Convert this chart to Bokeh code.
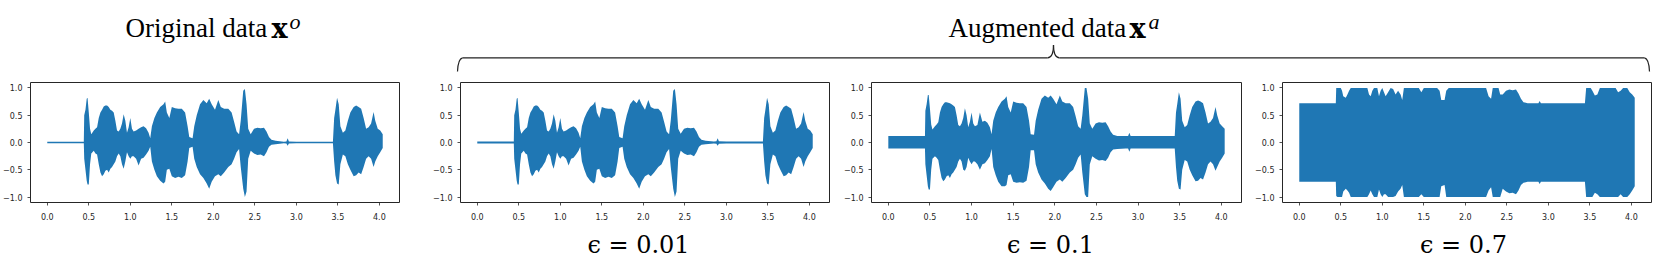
from bokeh.plotting import figure
from bokeh.layouts import column, row
from bokeh.models import Range1d, CustomJSTickFormatter
from bokeh.embed import file_html
from bokeh.resources import INLINE
from bokeh.core.properties import value

# ---------------- data (envelopes of the waveforms) ----------------
time_s = [
    0.00, 0.44, 0.445, 0.46, 0.475, 0.485, 0.50, 0.515, 0.53, 0.56,
    0.58, 0.60, 0.62, 0.64, 0.66, 0.68, 0.70, 0.72, 0.74, 0.76,
    0.78, 0.80, 0.82, 0.84, 0.86, 0.88, 0.90, 0.92, 0.94, 0.96,
    0.98, 1.00, 1.02, 1.04, 1.07, 1.10, 1.13, 1.16, 1.19, 1.22,
    1.24, 1.26, 1.29, 1.32, 1.36, 1.40, 1.42, 1.44, 1.47, 1.50,
    1.54, 1.58, 1.62, 1.66, 1.69, 1.71, 1.75, 1.77, 1.80, 1.84,
    1.88, 1.92, 1.95, 1.98, 2.02, 2.06, 2.09, 2.13, 2.18, 2.22,
    2.25, 2.28, 2.31, 2.33, 2.36, 2.38, 2.40, 2.42, 2.45, 2.49,
    2.53, 2.57, 2.61, 2.64, 2.67, 2.70, 2.75, 2.85, 2.88, 2.895,
    2.91, 3.00, 3.44, 3.455, 3.47, 3.49, 3.51, 3.53, 3.56, 3.59,
    3.62, 3.65, 3.69, 3.72, 3.75, 3.78, 3.81, 3.84, 3.87, 3.90,
    3.93, 3.95, 3.98, 4.01, 4.04,
]

orig_upper = [
    0.012, 0.012, 0.50, 0.60, 0.80, 0.82, 0.55, 0.25, 0.15, 0.22,
    0.25, 0.28, 0.45, 0.55, 0.60, 0.66, 0.68, 0.68, 0.65, 0.60,
    0.58, 0.55, 0.40, 0.22, 0.20, 0.25, 0.35, 0.52, 0.40, 0.18,
    0.28, 0.45, 0.25, 0.20, 0.22, 0.25, 0.28, 0.30, 0.26, 0.18,
    0.08, 0.30, 0.45, 0.55, 0.65, 0.70, 0.75, 0.55, 0.45, 0.65,
    0.63, 0.62, 0.62, 0.55, 0.30, 0.10, 0.08, 0.30, 0.50, 0.70,
    0.78, 0.72, 0.80, 0.70, 0.60, 0.78, 0.65, 0.62, 0.62, 0.55,
    0.38, 0.20, 0.15, 0.40, 0.95, 0.98, 0.70, 0.25, 0.15, 0.25,
    0.27, 0.26, 0.27, 0.20, 0.10, 0.05, 0.03, 0.015, 0.02, 0.08,
    0.02, 0.015, 0.012, 0.45, 0.60, 0.82, 0.70, 0.30, 0.18, 0.22,
    0.40, 0.55, 0.65, 0.68, 0.65, 0.62, 0.45, 0.25, 0.28, 0.35,
    0.56, 0.40, 0.25, 0.22, 0.15,
]
orig_lower = [
    -0.012, -0.012, -0.30, -0.50, -0.70, -0.77, -0.77, -0.40, -0.20, -0.15,
    -0.20, -0.22, -0.40, -0.55, -0.62, -0.58, -0.52, -0.50, -0.55, -0.48,
    -0.45, -0.40, -0.35, -0.25, -0.20, -0.25, -0.40, -0.48, -0.35, -0.18,
    -0.25, -0.30, -0.25, -0.25, -0.30, -0.42, -0.30, -0.28, -0.22, -0.15,
    -0.08, -0.35, -0.50, -0.62, -0.70, -0.75, -0.72, -0.50, -0.48, -0.62,
    -0.65, -0.63, -0.65, -0.60, -0.35, -0.10, -0.08, -0.30, -0.45, -0.58,
    -0.65, -0.75, -0.85, -0.72, -0.62, -0.58, -0.62, -0.55, -0.45, -0.40,
    -0.30, -0.18, -0.12, -0.45, -0.85, -1.00, -0.90, -0.30, -0.15, -0.20,
    -0.23, -0.22, -0.25, -0.18, -0.08, -0.04, -0.03, -0.015, -0.02, -0.06,
    -0.02, -0.015, -0.012, -0.35, -0.60, -0.75, -0.77, -0.40, -0.22, -0.25,
    -0.40, -0.50, -0.62, -0.60, -0.55, -0.58, -0.45, -0.30, -0.25, -0.30,
    -0.45, -0.35, -0.25, -0.18, -0.10,
]

eps001_upper = [
    0.02, 0.02, 0.50, 0.60, 0.80, 0.82, 0.55, 0.25, 0.16, 0.22,
    0.25, 0.28, 0.45, 0.55, 0.60, 0.66, 0.68, 0.68, 0.65, 0.60,
    0.58, 0.55, 0.40, 0.22, 0.20, 0.25, 0.35, 0.52, 0.40, 0.18,
    0.28, 0.45, 0.25, 0.20, 0.22, 0.25, 0.28, 0.30, 0.26, 0.18,
    0.08, 0.30, 0.45, 0.55, 0.65, 0.70, 0.75, 0.55, 0.45, 0.65,
    0.63, 0.62, 0.62, 0.55, 0.30, 0.10, 0.08, 0.30, 0.50, 0.70,
    0.78, 0.72, 0.80, 0.70, 0.60, 0.78, 0.65, 0.62, 0.62, 0.55,
    0.38, 0.20, 0.15, 0.40, 0.95, 0.98, 0.70, 0.25, 0.16, 0.25,
    0.27, 0.26, 0.27, 0.20, 0.10, 0.05, 0.03, 0.02, 0.025, 0.08,
    0.025, 0.02, 0.02, 0.45, 0.60, 0.82, 0.70, 0.30, 0.18, 0.22,
    0.40, 0.55, 0.65, 0.68, 0.65, 0.62, 0.45, 0.25, 0.28, 0.35,
    0.56, 0.40, 0.25, 0.22, 0.15,
]
eps001_lower = [
    -0.02, -0.02, -0.30, -0.50, -0.70, -0.77, -0.77, -0.40, -0.20, -0.15,
    -0.20, -0.22, -0.40, -0.55, -0.62, -0.58, -0.52, -0.50, -0.55, -0.48,
    -0.45, -0.40, -0.35, -0.25, -0.20, -0.25, -0.40, -0.48, -0.35, -0.18,
    -0.25, -0.30, -0.25, -0.25, -0.30, -0.42, -0.30, -0.28, -0.22, -0.15,
    -0.08, -0.35, -0.50, -0.62, -0.70, -0.75, -0.72, -0.50, -0.48, -0.62,
    -0.65, -0.63, -0.65, -0.60, -0.35, -0.10, -0.08, -0.30, -0.45, -0.58,
    -0.65, -0.75, -0.85, -0.72, -0.62, -0.58, -0.62, -0.55, -0.45, -0.40,
    -0.30, -0.18, -0.12, -0.45, -0.85, -1.00, -0.90, -0.30, -0.15, -0.20,
    -0.23, -0.22, -0.25, -0.18, -0.08, -0.04, -0.03, -0.02, -0.025, -0.06,
    -0.025, -0.02, -0.02, -0.35, -0.60, -0.75, -0.77, -0.40, -0.22, -0.25,
    -0.40, -0.50, -0.62, -0.60, -0.55, -0.58, -0.45, -0.30, -0.25, -0.30,
    -0.45, -0.35, -0.25, -0.18, -0.10,
]

eps01_upper = [
    0.12, 0.12, 0.58, 0.70, 0.87, 0.87, 0.62, 0.33, 0.24, 0.30,
    0.33, 0.37, 0.55, 0.65, 0.70, 0.74, 0.74, 0.73, 0.72, 0.70,
    0.68, 0.65, 0.50, 0.32, 0.30, 0.35, 0.45, 0.63, 0.50, 0.28,
    0.38, 0.55, 0.35, 0.30, 0.32, 0.55, 0.38, 0.40, 0.36, 0.28,
    0.15, 0.40, 0.55, 0.65, 0.75, 0.80, 0.85, 0.65, 0.55, 0.75,
    0.73, 0.72, 0.72, 0.65, 0.40, 0.15, 0.14, 0.40, 0.60, 0.80,
    0.86, 0.82, 0.86, 0.80, 0.70, 0.86, 0.75, 0.72, 0.72, 0.65,
    0.48, 0.30, 0.25, 0.50, 1.00, 1.00, 0.80, 0.35, 0.25, 0.35,
    0.37, 0.36, 0.37, 0.30, 0.20, 0.14, 0.12, 0.12, 0.12, 0.18,
    0.12, 0.12, 0.12, 0.55, 0.70, 0.92, 0.80, 0.40, 0.28, 0.32,
    0.50, 0.65, 0.75, 0.77, 0.75, 0.72, 0.55, 0.35, 0.38, 0.45,
    0.65, 0.50, 0.35, 0.30, 0.25,
]
eps01_lower = [
    -0.11, -0.11, -0.40, -0.60, -0.80, -0.86, -0.86, -0.50, -0.30, -0.25,
    -0.28, -0.32, -0.50, -0.65, -0.71, -0.68, -0.62, -0.60, -0.65, -0.58,
    -0.55, -0.50, -0.45, -0.35, -0.30, -0.35, -0.50, -0.52, -0.45, -0.28,
    -0.35, -0.40, -0.35, -0.35, -0.40, -0.50, -0.40, -0.38, -0.32, -0.25,
    -0.12, -0.45, -0.60, -0.72, -0.80, -0.80, -0.78, -0.60, -0.58, -0.72,
    -0.74, -0.73, -0.74, -0.70, -0.45, -0.14, -0.14, -0.40, -0.55, -0.68,
    -0.75, -0.85, -0.89, -0.82, -0.72, -0.68, -0.72, -0.65, -0.55, -0.50,
    -0.40, -0.28, -0.22, -0.55, -0.95, -1.00, -1.00, -0.40, -0.25, -0.30,
    -0.33, -0.32, -0.34, -0.28, -0.18, -0.13, -0.12, -0.11, -0.11, -0.17,
    -0.11, -0.11, -0.11, -0.45, -0.70, -0.85, -0.86, -0.50, -0.32, -0.35,
    -0.50, -0.60, -0.71, -0.70, -0.65, -0.68, -0.55, -0.40, -0.35, -0.40,
    -0.52, -0.45, -0.35, -0.28, -0.20,
]

eps07_upper = [
    0.72, 0.72, 1.00, 1.00, 1.00, 1.00, 1.00, 0.95, 0.85, 0.82,
    0.88, 0.95, 1.00, 1.00, 1.00, 1.00, 1.00, 1.00, 1.00, 1.00,
    1.00, 1.00, 1.00, 0.88, 0.85, 0.95, 1.00, 1.00, 1.00, 0.85,
    0.95, 1.00, 0.92, 0.85, 0.92, 1.00, 0.98, 0.88, 0.95, 0.88,
    0.78, 1.00, 1.00, 1.00, 1.00, 1.00, 1.00, 1.00, 0.92, 1.00,
    1.00, 1.00, 1.00, 1.00, 0.95, 0.78, 0.78, 0.95, 1.00, 1.00,
    1.00, 1.00, 1.00, 1.00, 1.00, 1.00, 1.00, 1.00, 1.00, 1.00,
    1.00, 0.85, 0.80, 1.00, 1.00, 1.00, 1.00, 0.88, 0.88, 0.95,
    0.97, 0.96, 0.97, 0.90, 0.80, 0.74, 0.72, 0.72, 0.72, 0.76,
    0.72, 0.72, 0.72, 1.00, 1.00, 1.00, 1.00, 0.95, 0.86, 0.88,
    1.00, 1.00, 1.00, 1.00, 1.00, 1.00, 1.00, 0.92, 0.95, 1.00,
    1.00, 1.00, 0.92, 0.88, 0.82,
]
eps07_lower = [
    -0.72, -0.72, -0.98, -1.00, -1.00, -1.00, -1.00, -1.00, -0.90, -0.85,
    -0.88, -0.92, -1.00, -1.00, -1.00, -1.00, -1.00, -1.00, -1.00, -1.00,
    -1.00, -1.00, -1.00, -0.95, -0.88, -0.95, -1.00, -1.00, -1.00, -0.86,
    -0.95, -1.00, -0.95, -0.95, -1.00, -1.00, -1.00, -0.98, -0.90, -0.85,
    -0.78, -1.00, -1.00, -1.00, -1.00, -1.00, -1.00, -1.00, -0.95, -1.00,
    -1.00, -1.00, -1.00, -1.00, -1.00, -0.80, -0.78, -1.00, -1.00, -1.00,
    -1.00, -1.00, -1.00, -1.00, -1.00, -1.00, -1.00, -1.00, -1.00, -1.00,
    -1.00, -0.88, -0.82, -1.00, -1.00, -1.00, -1.00, -1.00, -0.85, -0.90,
    -0.93, -0.92, -0.95, -0.88, -0.78, -0.74, -0.72, -0.72, -0.72, -0.76,
    -0.72, -0.72, -0.72, -1.00, -1.00, -1.00, -1.00, -1.00, -0.92, -0.95,
    -1.00, -1.00, -1.00, -1.00, -1.00, -1.00, -1.00, -1.00, -0.95, -1.00,
    -1.00, -1.00, -0.95, -0.88, -0.80,
]

x_ticks = [0.0, 0.5, 1.0, 1.5, 2.0, 2.5, 3.0, 3.5, 4.0]
y_ticks = [-1.0, -0.5, 0.0, 0.5, 1.0]
eps_labels = ["\u03f5 = 0.01", "\u03f5 = 0.1", "\u03f5 = 0.7"]

BLUE = "#1f77b4"
SPINE = "#262626"

fmt_code = "return (tick < 0 ? '\u2212' : '') + Math.abs(tick).toFixed(1);"


def panel(upper, lower, width, bl, br):
    p = figure(width=width, height=146,
               min_border_left=bl, min_border_right=br,
               min_border_top=4, min_border_bottom=22,
               x_range=Range1d(-0.202, 4.242), y_range=Range1d(-1.1, 1.1),
               toolbar_location=None, output_backend="svg")
    p.varea(x=time_s, y1=lower, y2=upper, fill_color=BLUE, fill_alpha=1.0)
    p.grid.visible = False
    p.outline_line_color = SPINE
    p.outline_line_width = 1
    p.background_fill_color = "white"
    p.border_fill_color = "white"
    p.xaxis.ticker = x_ticks
    p.yaxis.ticker = y_ticks
    for ax in (p.xaxis[0], p.yaxis[0]):
        ax.formatter = CustomJSTickFormatter(code=fmt_code)
        ax.axis_line_color = None
        ax.major_tick_line_color = SPINE
        ax.major_tick_line_width = 0.8
        ax.major_tick_out = 3
        ax.major_tick_in = 0
        ax.minor_tick_line_color = None
        ax.major_label_text_font = "DejaVu Sans"
        ax.major_label_text_font_size = "8px"
        ax.major_label_text_color = SPINE
    p.xaxis.major_label_standoff = 7
    p.yaxis.major_label_standoff = 5
    return p


p1 = panel(orig_upper, orig_lower, 430, 29, 31)
p2 = panel(eps001_upper, eps001_lower, 411, 30, 12)
p3 = panel(eps01_upper, eps01_lower, 411, 29, 11)
p4 = panel(eps07_upper, eps07_lower, 409, 29, 10)

# ---------------- header: titles and brace ----------------
HH = 78
hdr = figure(width=1661, height=HH, x_range=Range1d(0, 1661), y_range=Range1d(HH, 0),
             min_border=0, x_axis_location=None, y_axis_location=None,
             toolbar_location=None, output_backend="svg")
hdr.grid.visible = False
hdr.outline_line_color = None

serif = value("Liberation Serif")
hdr.text(x=[125, 948], y=[27.7, 27.7], text=["Original data", "Augmented data"],
         text_font=serif, text_font_size="27px", text_color="black",
         text_align="left", text_baseline="alphabetic")
hdr.text(x=[271, 1129], y=[27.7, 27.7], text=["x", "x"],
         text_font=value("DejaVu Serif"), text_font_style="bold", text_font_size="27px",
         text_color="black", text_align="left", text_baseline="alphabetic")
hdr.text(x=[289, 1148], y=[20.5, 20.5], text=["o", "a"],
         text_font=serif, text_font_style="italic", text_font_size="22px",
         text_color="black", text_align="left", text_baseline="alphabetic")

BR = "#222222"
ly = 57.3
hdr.quadratic(x0=[457, 1644], y0=[71, ly], x1=[462, 1649], y1=[ly, 71],
              cx=[457.5, 1648.5], cy=[ly + 1, ly + 1], line_color=BR, line_width=1.2)
hdr.segment(x0=[462, 1059], y0=[ly, ly], x1=[1047, 1644], y1=[ly, ly],
            line_color=BR, line_width=1.2)
hdr.quadratic(x0=[1047, 1053], y0=[ly, 44.5], x1=[1053, 1059], y1=[44.5, ly],
              cx=[1053, 1053], cy=[ly, ly], line_color=BR, line_width=1.2)

# ---------------- footer: epsilon labels ----------------
FH = 41
ftr = figure(width=1661, height=FH, x_range=Range1d(0, 1661), y_range=Range1d(FH, 0),
             min_border=0, x_axis_location=None, y_axis_location=None,
             toolbar_location=None, output_backend="svg")
ftr.grid.visible = False
ftr.outline_line_color = None
ftr.text(x=[638, 1050, 1463], y=[20, 20, 20], text=eps_labels,
         text_font=value("DejaVu Serif"), text_font_size="24px", text_color="black",
         text_align="center", text_baseline="alphabetic")

layout = column(hdr, row(p1, p2, p3, p4), ftr)
open("out.html", "w").write(file_html(layout, INLINE))
